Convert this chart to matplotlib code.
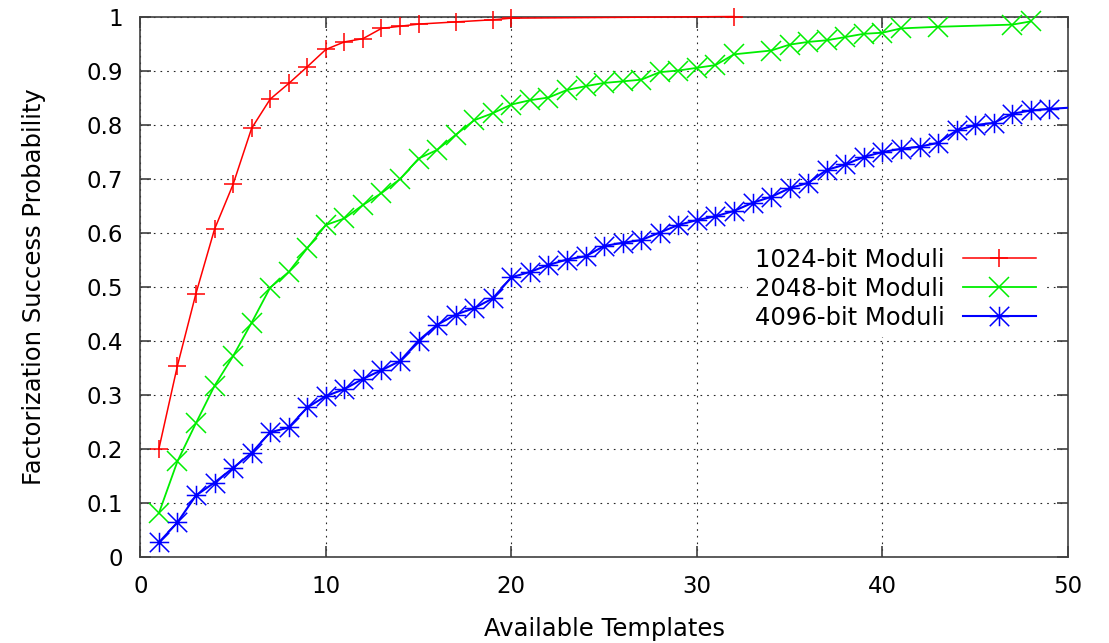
import numpy as np
import matplotlib
matplotlib.use("Agg")
import matplotlib.pyplot as plt
from matplotlib.path import Path

# success probability vs. number of templates, one series per modulus size
x_1024 = [1, 2, 3, 4, 5, 6, 7, 8, 9, 10, 11, 12, 13, 14, 15, 17, 19, 20, 32]
p_1024 = [0.199, 0.353, 0.487, 0.606, 0.689, 0.793, 0.847, 0.876, 0.907, 0.939,
          0.953, 0.959, 0.978, 0.982, 0.986, 0.990, 0.994, 0.997, 1.0]

x_2048 = list(range(1, 33)) + [34, 35, 36, 37, 38, 39, 40, 41, 43, 47, 48]
p_2048 = [0.080, 0.176, 0.247, 0.316, 0.371, 0.433, 0.498, 0.527, 0.571, 0.614,
          0.626, 0.651, 0.673, 0.699, 0.737, 0.753, 0.781, 0.808, 0.821, 0.837,
          0.845, 0.850, 0.864, 0.871, 0.877, 0.880, 0.883, 0.897, 0.900, 0.905,
          0.910, 0.930, 0.937, 0.948, 0.953, 0.956, 0.962, 0.968, 0.970, 0.978,
          0.981, 0.985, 0.991]

x_4096 = list(range(1, 51))
p_4096 = [0.026, 0.063, 0.113, 0.137, 0.164, 0.192, 0.230, 0.239, 0.276, 0.297,
          0.310, 0.329, 0.345, 0.362, 0.400, 0.429, 0.448, 0.460, 0.478, 0.517,
          0.527, 0.540, 0.550, 0.556, 0.575, 0.581, 0.586, 0.600, 0.614, 0.623,
          0.630, 0.640, 0.655, 0.666, 0.682, 0.692, 0.716, 0.726, 0.740, 0.749,
          0.755, 0.759, 0.766, 0.789, 0.799, 0.803, 0.820, 0.826, 0.829, 0.831]

labels = ["1024-bit Moduli", "2048-bit Moduli", "4096-bit Moduli"]

# gnuplot style asterisk: a plus with a cross on top
star = Path([(-1, 0), (1, 0), (0, -1), (0, 1),
             (-1, -1), (1, 1), (-1, 1), (1, -1)],
            [Path.MOVETO, Path.LINETO] * 4)

plt.rcParams['font.family'] = ['DejaVu Sans']

fig = plt.figure(figsize=(11.09, 6.43), dpi=100)
ax = fig.add_axes([0.1265, 0.1345, 0.8365, 0.8398])

ax.plot(x_1024, p_1024, color='#ff0000', lw=1.1, marker='+', ms=13.5,
        mew=1.1, label=labels[0], clip_on=False, zorder=3)
ax.plot(x_2048, p_2048, color='#00ee00', lw=1.3, marker='x', ms=14,
        mew=1.1, label=labels[1], clip_on=False, zorder=3)
ax.plot(x_4096, p_4096, color='#0000ff', lw=1.5, marker=star, ms=14,
        mew=1.1, markevery=slice(0, len(x_4096) - 1), label=labels[2],
        zorder=3)

ax.set_xlim(0, 50)
ax.set_ylim(0, 1)
ax.set_xticks(np.arange(0, 51, 10))
ax.set_yticks(np.arange(0, 1.01, 0.1))
ax.set_yticklabels(["0"] + ["%.1f" % v for v in np.arange(0.1, 0.95, 0.1)] + ["1"])

ax.grid(True, color='0.15', lw=0.8, linestyle=(0, (1.5, 4.5)))
ax.set_axisbelow(True)
ax.tick_params(direction='in', length=8, width=1.2, color='0.25',
               top=True, right=True, labelsize=16.5)
ax.tick_params(axis='y', pad=12.5)
ax.tick_params(axis='x', pad=13)
for s in ax.spines.values():
    s.set_color('0.25')
    s.set_linewidth(1.2)

ax.set_xlabel("Available Templates", fontsize=17.5, labelpad=14)
ax.set_ylabel("Factorization Success Probability", fontsize=17.5, labelpad=29)

leg = ax.legend(loc='upper right', bbox_to_anchor=(0.973, 0.585),
                markerfirst=False, fontsize=17.5, handlelength=3.0,
                handletextpad=0.74, labelspacing=0.2, borderaxespad=0,
                borderpad=0.3, fancybox=False)
leg.get_frame().set_facecolor('white')
leg.get_frame().set_edgecolor('none')
leg.get_frame().set_alpha(1)

fig.savefig("out.png", dpi=100)
